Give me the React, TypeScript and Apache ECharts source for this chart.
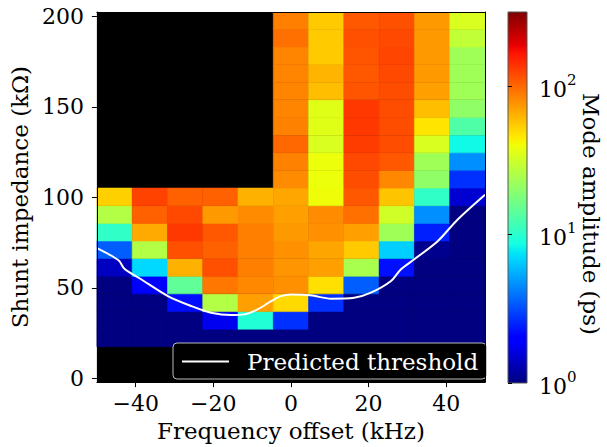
import React, { useEffect, useRef } from 'react';
import * as echarts from 'echarts';

// ---- Data ----
// column centres (kHz) of the 11 frequency-offset bins
const freqCenters = [-45.45, -36.36, -27.27, -18.18, -9.09, 0, 9.09, 18.18, 27.27, 36.36, 45.45];
// row centres (kOhm) of the 21 shunt-impedance bins, bottom to top
const impedanceCenters = [2.9, 12.6, 22.4, 32.1, 41.8, 51.6, 61.3, 71.1, 80.8, 90.5, 100.3, 110.0, 119.8, 129.5, 139.3, 149.0, 158.8, 168.5, 178.3, 188.0, 197.7];
const CELL_W = 100 / 11;
const CELL_H = 204.4 / 21;

// mode amplitude (ps), one array per impedance row (bottom -> top); null = no data
const row00 = [null, null, null, null, null, null, null, null, null, null, null];
const row01 = [null, null, null, null, null, null, null, null, null, null, null];
const row02 = [1, 1, 1, 1, 1, 1, 1, 1, 1, 1, 1];
const row03 = [1, 1, 1, 1.75, 9.4, 2.7, 1, 1, 1, 1, 1];
const row04 = [1, 1, 2.2, 26, 71, 50, 2.7, 1, 1, 1, 1];
const row05 = [1, 1.9, 14.7, 91, 82, 78, 48, 3.5, 1, 1, 1];
const row06 = [1.38, 7, 64, 116, 87, 76, 71, 24.4, 2.24, 1, 1];
const row07 = [3.5, 26, 116, 105, 87, 78, 69, 55, 6.6, 1.08, 1];
const row08 = [10.5, 67, 134, 110, 87, 74, 78, 71, 23, 2.45, 1];
const row09 = [26, 105, 121, 74, 80, 71, 80, 95, 32, 4.6, 1];
const row10 = [53, 126, 105, 105, 64, 68, 40, 110, 57, 10.5, 1.5];
const row11 = [null, null, null, null, null, 80, 39, 118, 82, 20.5, 2.7];
const row12 = [null, null, null, null, null, 86, 39, 121, 110, 23, 4.6];
const row13 = [null, null, null, null, null, 100, 34, 131, 118, 34, 8.4];
const row14 = [null, null, null, null, null, 86, 36, 134, 118, 47, 13];
const row15 = [null, null, null, null, null, 84, 36, 134, 118, 59, 20.5];
const row16 = [null, null, null, null, null, 84, 59, 113, 118, 71, 23];
const row17 = [null, null, null, null, null, 84, 63, 110, 121, 74, 23];
const row18 = [null, null, null, null, null, 84, 55, 113, 124, 74, 23];
const row19 = [null, null, null, null, null, 95, 55, 116, 121, 74, 29];
const row20 = [null, null, null, null, null, 87, 55, 110, 116, 74, 34];
const amplitudeRows = [row00, row01, row02, row03, row04, row05, row06, row07, row08, row09, row10,
  row11, row12, row13, row14, row15, row16, row17, row18, row19, row20];

// predicted threshold curve
const thresholdFreq = [-50, -46, -44.2, -42.9, -38.6, -31.7, -25.7, -20.6, -15.4, -12.0, -8.6, -5.1, -2.6, 0, 5.1, 10.3, 16.3, 20.6, 25.7, 28.3, 31.7, 37.8, 42.9, 50];
const thresholdImp = [72.0, 67.5, 64.8, 60.6, 54.8, 45.5, 40.0, 36.3, 35.0, 35.4, 38.2, 42.7, 45.5, 46.4, 45.9, 44.1, 44.6, 47.4, 53.7, 60.2, 65.7, 75.8, 87.7, 101.5];

const xTicks = [-40, -20, 0, 20, 40];
const yTicks = [0, 50, 100, 150, 200];
const cbExponents = [0, 1, 2];
const LOG_MAX = 2.5; // colour scale 1 .. 10^2.5 ps (log)

// ---- jet colormap ----
const JET_R = [[0, 0], [0.35, 0], [0.66, 1], [0.89, 1], [1, 0.5]];
const JET_G = [[0, 0], [0.125, 0], [0.375, 1], [0.64, 1], [0.91, 0], [1, 0]];
const JET_B = [[0, 0.5], [0.11, 1], [0.34, 1], [0.65, 0], [1, 0]];
const JET_BREAKS = [0, 0.11, 0.125, 0.34, 0.35, 0.375, 0.64, 0.65, 0.66, 0.89, 0.91, 1];
function seg(pts: number[][], t: number) {
  for (let i = 1; i < pts.length; i++) {
    if (t <= pts[i][0]) {
      const [x0, y0] = pts[i - 1];
      const [x1, y1] = pts[i];
      return y0 + ((y1 - y0) * (t - x0)) / (x1 - x0);
    }
  }
  return pts[pts.length - 1][1];
}
function jet(t: number) {
  const u = Math.max(0, Math.min(1, t));
  const r = Math.round(255 * seg(JET_R, u));
  const g = Math.round(255 * seg(JET_G, u));
  const b = Math.round(255 * seg(JET_B, u));
  return `rgb(${r},${g},${b})`;
}
function ampColor(v: number) {
  return jet(Math.log10(Math.max(v, 1e-9)) / LOG_MAX);
}

const FONT = 'DejaVu Serif';
const FS = 22;
const FS_NAME = 23;
const fmtNum = (v: number) => (v < 0 ? '\u2212' + Math.abs(v) : String(v));

export default function App() {
  const ref = useRef<HTMLDivElement>(null);
  useEffect(() => {
    if (!ref.current) return;
    const chart = echarts.init(ref.current, null, { renderer: 'svg' });

    const cells: number[][] = [];
    amplitudeRows.forEach((row, k) => {
      row.forEach((v, i) => {
        if (v !== null) cells.push([freqCenters[i], impedanceCenters[k], v as number]);
      });
    });
    const threshold = thresholdFreq.map((f, i) => [f, thresholdImp[i]]);

    const axisText = { fontFamily: FONT, fontSize: FS, color: '#000' };
    const nameText = { fontFamily: FONT, fontSize: FS_NAME, color: '#000' };

    chart.setOption({
      animation: false,
      backgroundColor: '#fff',
      grid: [
        { left: 96, top: 12, width: 389, height: 371, show: true, backgroundColor: '#000', borderWidth: 0 },
        { left: 508, top: 12, width: 19, height: 371, show: false },
      ],
      xAxis: [
        {
          type: 'value', gridIndex: 0, min: -50, max: 50, position: 'bottom', z: 10,
          axisLine: { show: true, onZero: false, lineStyle: { color: '#000', width: 1 } },
          axisTick: { show: true, length: 5, customValues: xTicks, lineStyle: { color: '#000' } },
          axisLabel: { customValues: xTicks, formatter: fmtNum, margin: 10, ...axisText },
          splitLine: { show: false },
          name: 'Frequency offset (kHz)', nameLocation: 'middle', nameGap: 36,
          nameTextStyle: { ...nameText },
        },
        { type: 'value', gridIndex: 1, min: 0, max: 1, show: false },
        {
          type: 'value', gridIndex: 0, min: -50, max: 50, position: 'top', z: 10,
          axisLine: { show: true, onZero: false, lineStyle: { color: '#000', width: 1 } },
          axisTick: { show: false }, axisLabel: { show: false }, splitLine: { show: false },
        },
      ],
      yAxis: [
        {
          type: 'value', gridIndex: 0, min: -2, max: 202.4, position: 'left', z: 10,
          axisLine: { show: true, onZero: false, lineStyle: { color: '#000', width: 1 } },
          axisTick: { show: true, length: 5, customValues: yTicks, lineStyle: { color: '#000' } },
          axisLabel: { customValues: yTicks, formatter: fmtNum, margin: 13, ...axisText },
          splitLine: { show: false },
          name: 'Shunt impedance (k\u03a9)', nameLocation: 'middle', nameGap: 61,
          nameTextStyle: { ...nameText },
        },
        {
          type: 'value', gridIndex: 1, min: 0, max: LOG_MAX, position: 'right', z: 10,
          axisLine: { show: false },
          axisTick: { show: true, length: 4, customValues: cbExponents, lineStyle: { color: '#000' } },
          axisLabel: {
            customValues: cbExponents, margin: 12,
            formatter: (v: number) => `{b|10}{s|${v}}`,
            rich: {
              b: { fontFamily: FONT, fontSize: FS, color: '#000', verticalAlign: 'bottom', lineHeight: 28 },
              s: { fontFamily: FONT, fontSize: 15, color: '#000', verticalAlign: 'top', lineHeight: 15 },
            },
          },
          splitLine: { show: false },
        },
        {
          type: 'value', gridIndex: 0, min: -2, max: 202.4, position: 'right', z: 10,
          axisLine: { show: true, onZero: false, lineStyle: { color: '#000', width: 1 } },
          axisTick: { show: false }, axisLabel: { show: false }, splitLine: { show: false },
        },
      ],
      legend: {
        data: [{ name: 'Predicted threshold', icon: 'rect' }],
        left: 173, top: 343,
        backgroundColor: '#000', borderColor: '#bbb', borderWidth: 1, borderRadius: 4,
        padding: [7, 8, 6, 9],
        itemWidth: 47, itemHeight: 2,
        itemStyle: { color: '#fff' },
        textStyle: { fontFamily: FONT, fontSize: FS_NAME, color: '#fff', padding: [0, 0, 0, 13] },
      },
      graphic: [
        {
          type: 'text', x: 591, y: 214, rotation: -Math.PI / 2,
          style: { text: 'Mode amplitude (ps)', fontFamily: FONT, fontSize: FS_NAME, fill: '#000', align: 'center', verticalAlign: 'middle' },
        },
      ],
      series: [
        {
          type: 'custom', name: 'amplitude', xAxisIndex: 0, yAxisIndex: 0, z: 2,
          data: cells,
          renderItem: (params: any, api: any) => {
            const x = api.value(0), y = api.value(1), v = api.value(2);
            const p0 = api.coord([x - CELL_W / 2, y + CELL_H / 2]);
            const p1 = api.coord([x + CELL_W / 2, y - CELL_H / 2]);
            const c = ampColor(v);
            return {
              type: 'rect',
              shape: { x: p0[0], y: p0[1], width: p1[0] - p0[0], height: p1[1] - p0[1] },
              style: { fill: c, stroke: c, lineWidth: 0.6 },
            };
          },
          clip: true,
        },
        {
          type: 'line', name: 'Predicted threshold', xAxisIndex: 0, yAxisIndex: 0, z: 5,
          data: threshold, smooth: 0.3, symbol: 'none', showSymbol: false,
          lineStyle: { color: '#fff', width: 2 }, itemStyle: { color: '#fff' },
        },
        {
          type: 'custom', name: 'colorbar', xAxisIndex: 1, yAxisIndex: 1, z: 2,
          data: [[0, 0, 1, LOG_MAX]],
          renderItem: (params: any, api: any) => {
            const p0 = api.coord([api.value(0), api.value(3)]);
            const p1 = api.coord([api.value(2), api.value(1)]);
            return {
              type: 'rect',
              shape: { x: p0[0], y: p0[1], width: p1[0] - p0[0], height: p1[1] - p0[1] },
              style: {
                fill: {
                  type: 'linear', x: 0, y: 1, x2: 0, y2: 0,
                  colorStops: JET_BREAKS.map((b) => ({ offset: b, color: jet(b) })),
                },
                stroke: '#555', lineWidth: 1,
              },
            };
          },
        },
      ],
    });
    return () => chart.dispose();
  }, []);
  return <div ref={ref} style={{ position: 'fixed', left: 0, top: 0, width: 607, height: 447 }} />;
}
